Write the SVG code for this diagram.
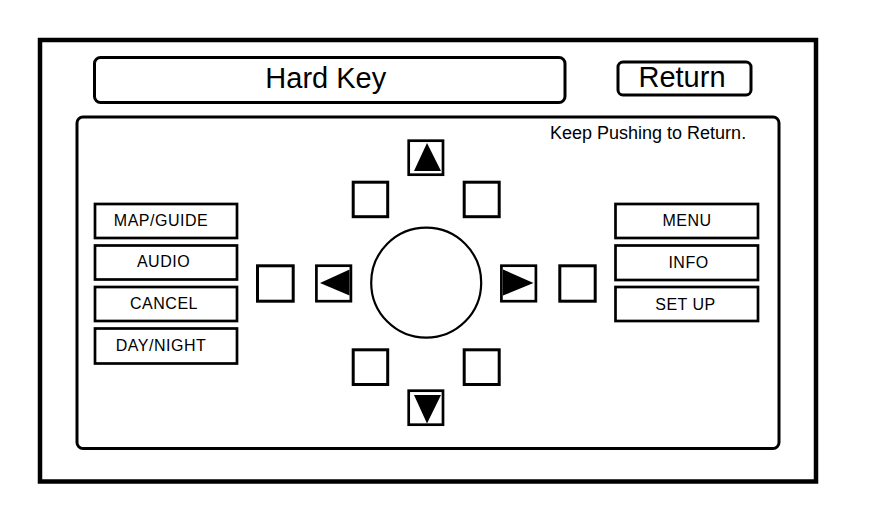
<svg xmlns="http://www.w3.org/2000/svg" width="880" height="522" viewBox="0 0 880 522">
<style>
  .bg{fill:#fff}
  .frame{fill:none;stroke:#000;stroke-width:4.5}
  .panel{fill:#fff;stroke:#000;stroke-width:3}
  .btn{fill:#fff;stroke:#000;stroke-width:2.7}
  .key{fill:#fff;stroke:#000;stroke-width:3}
  .tri{fill:#000}
  text{font-family:"Liberation Sans",Arial,Helvetica,sans-serif;fill:#000}
  .big{font-size:29px}
  .lbl{font-size:16px;text-anchor:middle;letter-spacing:0.5px}
  .note{font-size:18px}
</style>
<rect class="bg" x="0" y="0" width="880" height="522"/>
<g id="frame"><rect class="frame" x="40" y="40" width="776" height="441.5"/></g>
<g id="title">
  <rect class="panel" x="94.5" y="57.5" width="470.5" height="45" rx="6"/>
  <text class="big" x="325.8" y="87.7" text-anchor="middle">Hard Key</text>
</g>
<g id="return">
  <rect class="panel" x="618" y="62" width="133" height="33" rx="5"/>
  <text class="big" x="682" y="86.7" text-anchor="middle">Return</text>
</g>
<g id="panel">
  <rect class="panel" x="77" y="117" width="702" height="331.5" rx="6"/>
  <text class="note" x="550" y="138.5">Keep Pushing to Return.</text>
</g>
<g id="map-guide"><rect class="btn" x="95" y="204" width="142" height="34"/><text class="lbl" x="161" y="226">MAP/GUIDE</text></g>
<g id="audio"><rect class="btn" x="95" y="245.5" width="142" height="34"/><text class="lbl" x="163.5" y="267">AUDIO</text></g>
<g id="cancel"><rect class="btn" x="95" y="287" width="142" height="34"/><text class="lbl" x="164" y="308.5">CANCEL</text></g>
<g id="day-night"><rect class="btn" x="95" y="328.5" width="142" height="35"/><text class="lbl" x="161" y="351">DAY/NIGHT</text></g>
<g id="menu"><rect class="btn" x="615.5" y="204" width="142.5" height="34"/><text class="lbl" x="687" y="226">MENU</text></g>
<g id="info"><rect class="btn" x="615.5" y="245.5" width="142.5" height="34.5"/><text class="lbl" x="688.5" y="268">INFO</text></g>
<g id="setup"><rect class="btn" x="615.5" y="287" width="142.5" height="34"/><text class="lbl" x="685.5" y="309.5">SET UP</text></g>
<g id="up"><rect class="btn" x="408.7" y="140.7" width="34.3" height="34"/><polygon class="tri" points="427,143 414,171 441,171"/></g>
<g id="down"><rect class="btn" x="408.7" y="390.7" width="34.3" height="34"/><polygon class="tri" points="414,395 441,395 427,423.5"/></g>
<g id="left"><rect class="btn" x="316.4" y="265.7" width="34.5" height="35.5"/><polygon class="tri" points="320,283 349.5,269.5 349.5,295.5"/></g>
<g id="right"><rect class="btn" x="501.4" y="265.7" width="34.5" height="35.5"/><polygon class="tri" points="503,269.5 503,295.5 533.5,283"/></g>
<g id="key-ul"><rect class="key" x="353.2" y="182.2" width="34.5" height="34.5"/></g>
<g id="key-ur"><rect class="key" x="464.2" y="182.2" width="35" height="34.5"/></g>
<g id="key-ll"><rect class="key" x="353.2" y="349.8" width="34.5" height="34.7"/></g>
<g id="key-lr"><rect class="key" x="464.2" y="349.8" width="35" height="34.7"/></g>
<g id="key-l"><rect class="key" x="257.5" y="265.8" width="35.7" height="35.4"/></g>
<g id="key-r"><rect class="key" x="559.8" y="265.8" width="35.4" height="35.4"/></g>
<g id="joystick"><circle cx="426.2" cy="282.7" r="55" fill="#fff" stroke="#000" stroke-width="2.2"/></g>
<g id="connectors"></g>
</svg>
